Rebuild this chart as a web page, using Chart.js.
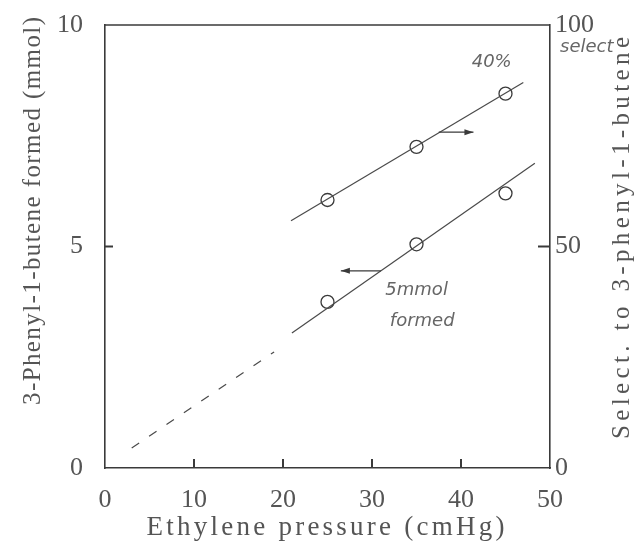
<!DOCTYPE html>
<html><head><meta charset="utf-8">
<script src="https://cdn.jsdelivr.net/npm/chart.js@4/dist/chart.umd.min.js"></script>
<style>html,body{margin:0;padding:0;background:#fff}#wrap{width:642px;height:547px}</style>
</head><body><div id="wrap"><canvas id="c" width="642" height="547"></canvas></div>
<script>
// Data
const pressure = [25, 35, 45];                 // cmHg
const formed = [3.75, 5.05, 6.2];              // mmol (left axis)
const selectivity = [60.5, 72.5, 84.5];        // % (right axis)
const formedFitX = [21, 48.3];
const formedFitY = [3.05, 6.88];
const selectFitX = [20.9, 47];
const selectFitY = [55.8, 87];
const dashX = [3, 10.5, 19];
const dashY = [0.45, 1.47, 2.62];
const xTicks = [0, 10, 20, 30, 40, 50];
const leftTicks = [0, 5, 10];
const rightTicks = [0, 50, 100];
const xTitle = 'Ethylene pressure (cmHg)';
const leftTitle = '3-Phenyl-1-butene formed (mmol)';
const rightTitle = 'Select. to 3-phenyl-1-butene';

const ink = '#3a3a3a';
const txt = '#555';
const serif = '"Liberation Serif", "DejaVu Serif", serif';
const pts = (xs, ys) => xs.map((x, i) => ({x, y: ys[i]}));

function spacedText(ctx, text, cx, cy, rot, size, targetW) {
  ctx.save();
  ctx.font = size + 'px ' + serif;
  ctx.fillStyle = txt;
  const w = ctx.measureText(text).width;
  const ls = Math.max(0, (targetW - w) / (text.length - 1));
  ctx.translate(cx, cy);
  ctx.rotate(rot);
  ctx.textBaseline = 'middle';
  ctx.textAlign = 'left';
  let x = -targetW / 2;
  for (const ch of text) { ctx.fillText(ch, x, 0); x += ctx.measureText(ch).width + ls; }
  ctx.restore();
}

const decor = {
  id: 'decor',
  afterDraw(chart) {
    const {ctx, chartArea: a, scales} = chart;
    const x = scales.x, yl = scales.y, yr = scales.y1;
    ctx.save();
    ctx.strokeStyle = ink; ctx.lineWidth = 1.6;
    ctx.beginPath(); ctx.moveTo(a.left, a.top); ctx.lineTo(a.right, a.top); ctx.stroke();
    ctx.lineWidth = 2;
    xTicks.slice(1, -1).forEach(v => { const p = x.getPixelForValue(v); ctx.beginPath(); ctx.moveTo(p, a.bottom); ctx.lineTo(p, a.bottom - 9); ctx.stroke(); });
    leftTicks.slice(1, -1).forEach(v => { const p = yl.getPixelForValue(v); ctx.beginPath(); ctx.moveTo(a.left, p); ctx.lineTo(a.left + 8, p); ctx.stroke(); });
    rightTicks.slice(1, -1).forEach(v => { const p = yr.getPixelForValue(v); ctx.beginPath(); ctx.moveTo(a.right, p); ctx.lineTo(a.right - 12, p); ctx.stroke(); });
    ctx.lineWidth = 1.2;
    const arrow = (x1, x2, yPix) => {
      ctx.beginPath(); ctx.moveTo(x1, yPix); ctx.lineTo(x2, yPix); ctx.stroke();
      const d = Math.sign(x2 - x1);
      ctx.beginPath(); ctx.moveTo(x2, yPix); ctx.lineTo(x2 - d * 9, yPix - 3); ctx.lineTo(x2 - d * 9, yPix + 3); ctx.closePath(); ctx.fillStyle = ink; ctx.fill();
    };
    arrow(x.getPixelForValue(37.5), x.getPixelForValue(41.4), yr.getPixelForValue(75.8));
    arrow(x.getPixelForValue(31.0), x.getPixelForValue(26.5), yl.getPixelForValue(4.45));
    ctx.restore();
    // axis titles
    spacedText(ctx, xTitle, (a.left + a.right) / 2 - 2, 528, 0, 27, 358);
    spacedText(ctx, leftTitle, 33, 211, -Math.PI / 2, 25, 388);
    spacedText(ctx, rightTitle, 622, 238, -Math.PI / 2, 25, 402);
    // handwritten notes
    ctx.save();
    ctx.fillStyle = '#666';
    ctx.font = 'italic 18px "DejaVu Sans", sans-serif';
    ctx.textAlign = 'left'; ctx.textBaseline = 'middle';
    ctx.fillText('40%', x.getPixelForValue(41.2), yr.getPixelForValue(91.5));
    ctx.fillText('select', a.right + 10, yr.getPixelForValue(95));
    ctx.fillText('5mmol', x.getPixelForValue(31.5), yl.getPixelForValue(4.0));
    ctx.fillText('formed', x.getPixelForValue(32), yl.getPixelForValue(3.3));
    ctx.restore();
  }
};

const lineDs = (data, axis, dash) => ({data, yAxisID: axis, showLine: true, pointRadius: 0, borderColor: '#4a4a4a', borderWidth: 1.2, borderDash: dash || [], fill: false});

new Chart(document.getElementById('c'), {
  type: 'scatter',
  data: {
    datasets: [
      lineDs(pts(formedFitX, formedFitY), 'y'),
      lineDs(pts(selectFitX, selectFitY), 'y1'),
      lineDs(pts(dashX, dashY), 'y', [9, 12]),
      {data: pts(pressure, formed), yAxisID: 'y', pointRadius: 6.5, pointBackgroundColor: '#fff', pointBorderColor: ink, pointBorderWidth: 1.3},
      {data: pts(pressure, selectivity), yAxisID: 'y1', pointRadius: 6.5, pointBackgroundColor: '#fff', pointBorderColor: ink, pointBorderWidth: 1.3}
    ]
  },
  options: {
    responsive: false, animation: false,
    layout: {padding: {left: 0, right: 0, top: 25, bottom: 0}},
    plugins: {legend: {display: false}, tooltip: {enabled: false}},
    scales: {
      x: {
        type: 'linear', min: 0, max: 50,
        afterBuildTicks: s => { s.ticks = xTicks.map(v => ({value: v})); },
        grid: {display: false, drawTicks: false},
        border: {color: ink, width: 1.6},
        ticks: {color: txt, font: {family: serif, size: 26}, padding: 17, maxRotation: 0},
        afterFit: s => { s.height = 79; }
      },
      y: {
        type: 'linear', position: 'left', min: 0, max: 10,
        afterBuildTicks: s => { s.ticks = leftTicks.map(v => ({value: v})); },
        grid: {display: false, drawTicks: false},
        border: {color: ink, width: 1.6},
        ticks: {color: txt, font: {family: serif, size: 26, lineHeight: 0.5}, padding: 22},
        afterFit: s => { s.width = 105; s.paddingTop = 0; s.paddingBottom = 0; }
      },
      y1: {
        type: 'linear', position: 'right', min: 0, max: 100,
        afterBuildTicks: s => { s.ticks = rightTicks.map(v => ({value: v})); },
        grid: {display: false, drawTicks: false},
        border: {color: ink, width: 1.6},
        ticks: {color: txt, font: {family: serif, size: 26, lineHeight: 0.5}, padding: 5},
        afterFit: s => { s.width = 92; s.paddingTop = 0; s.paddingBottom = 0; }
      }
    }
  },
  plugins: [decor]
});
</script>
</body></html>
